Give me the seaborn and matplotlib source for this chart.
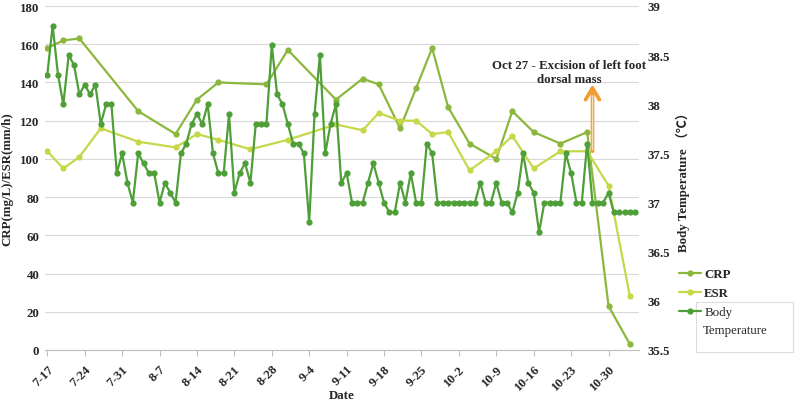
import numpy as np
import matplotlib
matplotlib.use('Agg')
import matplotlib.pyplot as plt
from matplotlib.lines import Line2D
from matplotlib.patches import Rectangle
import seaborn as sns

# 日期按 7-17 起算的天数
crp_day = [0, 3, 6, 17, 24, 28, 32, 41, 45, 54, 59, 62, 66, 69, 72, 75, 79, 84, 87, 91, 96, 101, 105, 109]
crp_val = [158, 162, 163, 125, 113, 131, 140, 139, 157, 131, 142, 139, 116, 137, 158, 127, 108, 100, 125, 114, 108, 114, 23, 3]

esr_day = [0, 3, 6, 10, 17, 24, 28, 32, 38, 45, 54, 59, 62, 66, 69, 72, 75, 79, 84, 87, 91, 96, 101, 105, 109]
esr_val = [104, 95, 101, 116, 109, 106, 113, 110, 105, 110, 118, 115, 124, 120, 120, 113, 114, 94, 104, 112, 95, 104, 104, 86, 28]

# 体温，每天一个点
body_temp = [
    38.3, 38.8, 38.3, 38.0, 38.5, 38.4, 38.1, 38.2, 38.1, 38.2, 37.8, 38.0, 38.0, 37.3, 37.5, 37.2, 37.0, 37.5, 37.4,
    37.3, 37.3, 37.0, 37.2, 37.1, 37.0, 37.5, 37.6, 37.8, 37.9, 37.8, 38.0, 37.5, 37.3, 37.3, 37.9, 37.1, 37.3, 37.4,
    37.2, 37.8, 37.8, 37.8, 38.6, 38.1, 38.0, 37.8, 37.6, 37.6, 37.5, 36.8, 37.9, 38.5, 37.5, 37.8, 38.0, 37.2,
    37.3, 37.0, 37.0, 37.0, 37.2, 37.4, 37.2, 37.0, 36.9, 36.9, 37.2, 37.0, 37.3, 37.0, 37.0, 37.6, 37.5, 37.0, 37.0,
    37.0, 37.0, 37.0, 37.0, 37.0, 37.0,
    37.2, 37.0, 37.0, 37.2, 37.0, 37.0, 36.9, 37.1, 37.5, 37.2, 37.1,
    36.7, 37.0, 37.0, 37.0, 37.0, 37.5, 37.3, 37.0, 37.0, 37.6, 37.0, 37.0, 37.0, 37.1, 36.9, 36.9, 36.9, 36.9, 36.9,
]
temp_day = list(range(len(body_temp)))

tick_day = [0, 7, 14, 21, 28, 35, 42, 49, 56, 63, 70, 77, 84, 91, 98, 105]
tick_label = ['7-17', '7-24', '7-31', '8-7', '8-14', '8-21', '8-28', '9-4', '9-11',
              '9-18', '9-25', '10-2', '10-9', '10-16', '10-23', '10-30']

left_ticks = [0, 20, 40, 60, 80, 100, 120, 140, 160, 180]
right_ticks = [35.5, 36, 36.5, 37, 37.5, 38, 38.5, 39]

surgery_day = 102

c_crp = '#8BB83C'
c_esr = '#C6D84A'
c_temp = '#4E9F37'

sns.set_theme(style='white')
plt.rcParams['font.family'] = ['Liberation Serif', 'Noto Sans CJK SC', 'DejaVu Sans']
plt.rcParams['font.weight'] = 'bold'

fig = plt.figure(figsize=(7.96, 4.02), dpi=100)
ax = fig.add_axes([45 / 796, 1 - 351 / 402, 594 / 796, 344 / 402])
ax2 = ax.twinx()

line_kw = dict(marker='o', markersize=4.5, markeredgewidth=0, linewidth=1.6, legend=False)
sns.lineplot(x=crp_day, y=crp_val, ax=ax, color=c_crp, **line_kw)
sns.lineplot(x=esr_day, y=esr_val, ax=ax, color=c_esr, **line_kw)
sns.lineplot(x=temp_day, y=body_temp, ax=ax2, color=c_temp, **line_kw)

ax.set_xlim(-0.43, 110.7)
ax.set_ylim(0, 180)
ax2.set_ylim(35.5, 39)

ax.set_yticks(left_ticks)
ax.set_yticklabels([str(v) for v in left_ticks], fontsize=9.3, fontweight='bold')
ax2.set_yticks(right_ticks)
ax2.set_yticklabels([f'{v:g}' for v in right_ticks], fontsize=9.3, fontweight='bold')
ax.set_xticks(tick_day)
ax.set_xticklabels(tick_label, rotation=45, ha='right', va='top', rotation_mode='anchor',
                   fontsize=9.3, fontweight='bold')

ax.tick_params(axis='x', bottom=True, length=4, width=0.8, color='#BFBFBF', pad=5)
ax.tick_params(axis='y', left=False, length=0, pad=4)
ax2.tick_params(axis='y', right=False, length=0, pad=6)

for s in ['top', 'left', 'right']:
    ax.spines[s].set_visible(False)
ax.spines['bottom'].set_color('#BFBFBF')
ax.spines['bottom'].set_linewidth(0.8)
for s in ax2.spines.values():
    s.set_visible(False)

ax.yaxis.grid(True, color='#D9D9D9', linewidth=0.8)
ax.xaxis.grid(False)
ax.set_axisbelow(True)

ax.set_xlabel('Date', fontsize=9.3, fontweight='bold')
ax.xaxis.label.set_va('center')
ax.xaxis.set_label_coords(0.5, -0.131)
ax.set_ylabel('CRP(mg/L)/ESR(mm/h)', fontsize=9.3, fontweight='bold')
ax.yaxis.label.set_va('center')
ax.yaxis.set_label_coords(-0.063, 0.5)
ax2.set_ylabel('Body Temperature （℃）', fontsize=9.3, fontweight='bold', rotation=90)
ax2.yaxis.label.set_va('center')
ax2.yaxis.set_label_coords(1.074, 0.5)

# 手术标注
ax.text(97.6, 145.5, 'Oct 27 - Excision of left foot\ndorsal mass', ha='center', va='center',
        fontsize=9.3, fontweight='bold', linespacing=1.3)
ax.annotate('', xy=(surgery_day, 139), xytext=(surgery_day, 104),
            arrowprops=dict(arrowstyle='->,head_length=0.85,head_width=0.5', color='#F39B2F',
                            lw=2.6, shrinkA=0, shrinkB=0, mutation_scale=10))
ax.annotate('', xy=(surgery_day, 133), xytext=(surgery_day, 104.8),
            arrowprops=dict(arrowstyle='-', color='#FCE3C0', lw=0.9, shrinkA=0, shrinkB=0))

# 图例
handles = [Line2D([], [], color=c, marker='o', markersize=4.5, markeredgewidth=0, linewidth=1.6)
           for c in [c_crp, c_esr, c_temp]]
leg = fig.legend(handles, ['CRP', 'ESR', 'Body'], loc='upper left',
                 bbox_to_anchor=(679 / 796, 1 - 269 / 402), frameon=False, borderpad=0,
                 borderaxespad=0, handlelength=1.7, handletextpad=0.25, labelspacing=0.55,
                 prop={'weight': 'bold', 'size': 9.3})
leg.get_texts()[2].set_fontweight('normal')
fig.text(703 / 796, 1 - 331 / 402, 'Temperature', ha='left', va='center', fontsize=9.3, fontweight='normal')
fig.add_artist(Rectangle((696 / 796, 1 - 353 / 402), 97 / 796, 50 / 402, transform=fig.transFigure,
                         fill=False, edgecolor='#DDDDDD', linewidth=0.8))

plt.savefig('out.png', dpi=100)
